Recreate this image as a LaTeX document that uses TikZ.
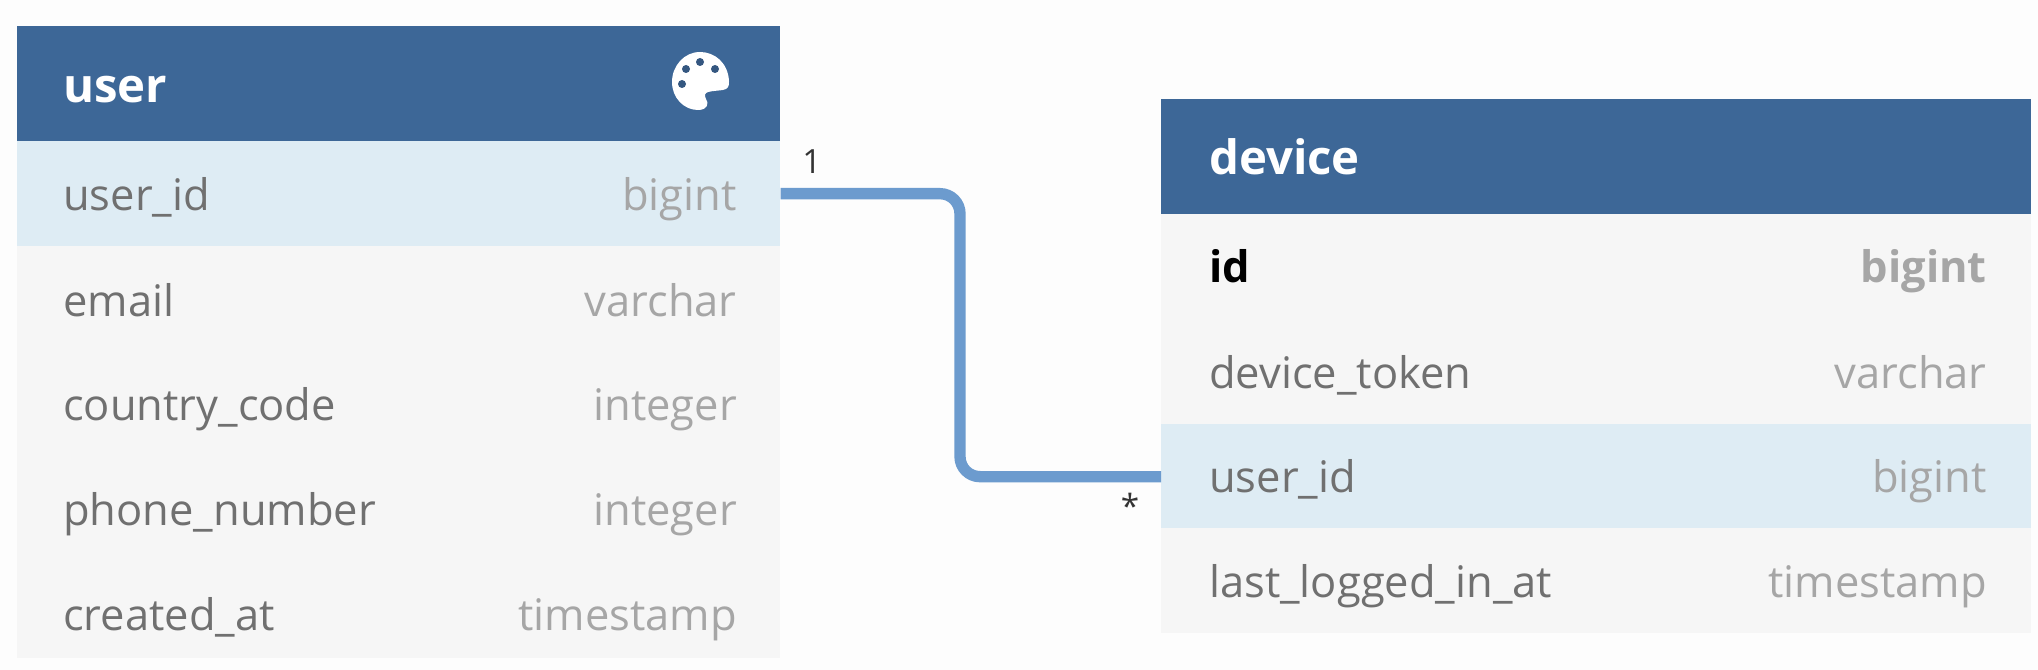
\documentclass[tikz,border=0pt]{standalone}
\usepackage{fontspec}
\setmainfont{Open Sans}
\definecolor{pagebg}{HTML}{FDFDFD}
\definecolor{headblue}{HTML}{3D6797}
\definecolor{rowgrey}{HTML}{F6F6F6}
\definecolor{rowblue}{HTML}{DEECF4}
\definecolor{fieldgrey}{HTML}{707070}
\definecolor{typegrey}{HTML}{A6A6A6}
\definecolor{relblue}{HTML}{6C9BCE}
\tikzset{
  userbox/.style={anchor=north west,inner sep=0pt,minimum width=572.25pt},
  devicebox/.style={anchor=north west,inner sep=0pt,minimum width=652.5pt},
  headrow/.style={fill=headblue,minimum height=86.25pt},
  plainrow/.style={fill=rowgrey,minimum height=78.6pt},
  keyrow/.style={fill=rowblue,minimum height=78.6pt},
  headtext/.style={anchor=base west,inner sep=0pt,text=white,font=\fontsize{35.5}{40}\selectfont\bfseries},
  fieldtext/.style={anchor=base west,inner sep=0pt,text=fieldgrey,font=\fontsize{32.6}{38}\selectfont},
  typetext/.style={anchor=base east,inner sep=0pt,text=typegrey,font=\fontsize{32.6}{38}\selectfont},
  cardtext/.style={inner sep=0pt,text=black!80,font=\fontsize{25}{28}\selectfont},
  relline/.style={draw=relblue,line width=8.5pt,rounded corners=15pt}
}
\begin{document}
\begin{tikzpicture}[x=0.75pt,y=0.75pt,yscale=-1,xscale=1]
\useasboundingbox (0,0) rectangle (2038,670);
\fill [pagebg] (0,0) rectangle (2038,670);

% Table user
\node [userbox,headrow] (userHead) at (17,26) {};
\node [userbox,keyrow] (userRowA) at (17,141) {};
\node [userbox,plainrow] (userRowB) at (17,246) {};
\node [userbox,plainrow] (userRowC) at (17,351) {};
\node [userbox,plainrow] (userRowD) at (17,455) {};
\node [userbox,plainrow,minimum height=73.5pt] (userRowE) at (17,560) {};

% Table device
\node [devicebox,headrow] (deviceHead) at (1161,99) {};
\node [devicebox,plainrow] (deviceRowA) at (1161,214) {};
\node [devicebox,plainrow] (deviceRowB) at (1161,319) {};
\node [devicebox,keyrow] (deviceRowC) at (1161,424) {};
\node [devicebox,plainrow] (deviceRowD) at (1161,528) {};

% Connector
\coordinate (relBend) at (960,300);
\draw [relline] (userRowA.east) -| (relBend) |- (deviceRowC.west);

% Palette icon
\fill [white] (708,92) .. controls (720,89) and (730,93) .. (729,81) .. controls (728,63) and (715,52) .. (700,52) .. controls (684,52) and (672,66) .. (672,82) .. controls (672,98) and (684,110) .. (698,110) .. controls (708,110) and (709,103) .. (706,99) .. controls (704,95) and (705,93) .. (708,92) -- cycle;
\fill [headblue!85!black] (700,62) circle (4);
\fill [headblue!85!black] (686,69) circle (4);
\fill [headblue!85!black] (715,69) circle (4);
\fill [headblue!85!black] (682,84) circle (4);

% Text Node
\node [headtext] (userTitle) at (63,103) {user};
\node [fieldtext] (userFieldA) at (63,211) {user\_id};
\node [typetext] (userTypeA) at (737,211) {bigint};
\node [fieldtext] (userFieldB) at (63,316) {email};
\node [typetext] (userTypeB) at (737,316) {varchar};
\node [fieldtext] (userFieldC) at (63,420) {country\_code};
\node [typetext] (userTypeC) at (737,420) {integer};
\node [fieldtext] (userFieldD) at (63,525) {phone\_number};
\node [typetext] (userTypeD) at (737,525) {integer};
\node [fieldtext] (userFieldE) at (63,630) {created\_at};
\node [typetext] (userTypeE) at (737,630) {timestamp};

% Text Node
\node [headtext] (deviceTitle) at (1209,175) {device};
\node [fieldtext,text=black,font=\fontsize{32.6}{38}\selectfont\bfseries] (deviceFieldA) at (1209,283) {id};
\node [typetext,font=\fontsize{32.6}{38}\selectfont\bfseries] (deviceTypeA) at (1987,283) {bigint};
\node [fieldtext] (deviceFieldB) at (1209,388) {device\_token};
\node [typetext] (deviceTypeB) at (1987,388) {varchar};
\node [fieldtext] (deviceFieldC) at (1209,492) {user\_id};
\node [typetext] (deviceTypeC) at (1987,492) {bigint};
\node [fieldtext] (deviceFieldD) at (1209,597) {last\_logged\_in\_at};
\node [typetext] (deviceTypeD) at (1987,597) {timestamp};

% Text Node
\node [cardtext] (cardOne) at (812,162) {1};
\node [cardtext] (cardMany) at (1130,506) {*};
\end{tikzpicture}
\end{document}
